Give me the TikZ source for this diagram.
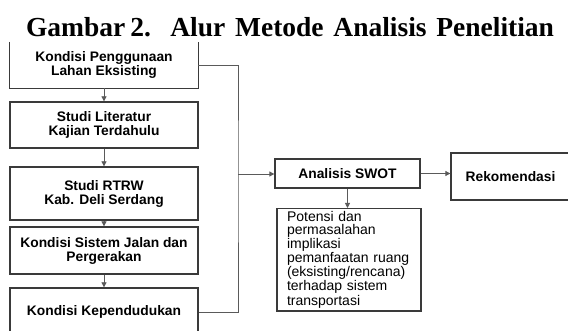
\documentclass[tikz,border=0pt]{standalone}
\usepackage{fontspec}
\newfontfamily\arialf{Liberation Sans}
\newfontfamily\titlef{Liberation Serif}
\usetikzlibrary{arrows.meta}
\definecolor{edge}{HTML}{3A3A3A}
\definecolor{wire}{HTML}{5A5A5A}
\tikzset{
  x=1pt,y=-1pt,
  boxs/.style={draw=edge,line width=1.3pt,minimum width=188pt,inner sep=0pt,align=center,
    font=\arialf\bfseries\fontsize{13.8}{14}\selectfont},
  plainbox/.style={inner sep=0pt,minimum width=188pt,align=center,
    font=\arialf\bfseries\fontsize{13.8}{14}\selectfont},
  wireline/.style={draw=wire,line width=0.8pt},
  arr/.style={wireline,-{Triangle[length=5pt,width=5pt]}},
}
\begin{document}
\begin{tikzpicture}
\useasboundingbox (0,0) rectangle (568,331);
\fill[white] (0,0) rectangle (568,331);
\node[anchor=base,inner sep=0pt,font=\titlef\bfseries\fontsize{27.5}{29}\selectfont] (title) at (290,37)
  {\makebox[528pt][s]{Gambar\kern5pt2.\ \ Alur Metode Analisis Penelitian}};
\begin{scope}
\clip (0,0) rectangle (568,331);
\node[plainbox,minimum height=46pt] (b1) at (104,65) {Kondisi Penggunaan\\Lahan Eksisting};
\draw[edge,line width=1.3pt] (b1.north west) -- (b1.south west) -- (b1.south east) -- (b1.north east);
\node[boxs,minimum height=46pt] (b2) at (104,125) {Studi Literatur\\Kajian Terdahulu};
\node[boxs,minimum height=53pt] (b3) at (104,193.5) {Studi RTRW\\Kab. Deli Serdang};
\node[boxs,minimum height=47pt] (b4) at (104,250.5) {Kondisi Sistem Jalan dan\\Pergerakan};
\node[boxs,minimum height=48pt] (b5) at (104,312) {Kondisi Kependudukan};
\node[boxs,minimum width=145pt,minimum height=29pt] (swot) at (347.5,173.5) {Analisis SWOT};
\node[boxs,minimum width=119pt,minimum height=47pt,text width=119pt] (rek) at (510.5,176.5) {Rekomendasi};
\node[draw=edge,line width=1.3pt,anchor=north,text width=124pt,inner xsep=10pt,inner ysep=3pt,
  minimum height=94pt,align=left,font=\arialf\fontsize{14}{13}\selectfont] (txt) at (349,208)
  {Potensi dan\\permasalahan\\implikasi\\pemanfaatan ruang\\(eksisting/rencana)\\terhadap sistem\\transportasi};
\coordinate (bus) at (238,174);
\draw[arr] (b1.south) -- (b2.north);
\draw[arr] (b2.south) -- (b3.north);
\draw[arr] (b3.south) -- (b4.north);
\draw[arr] (b4.south) -- (b5.north);
\draw[wireline] (b1.east) -| (bus) |- (b5.east);
\draw[arr] (bus) -- (swot.west |- bus);
\draw[arr] (swot.east) -- (rek.west |- swot.east);
\draw[arr] (swot.south) -- (swot.south |- txt.north);
\end{scope}
\end{tikzpicture}
\end{document}
